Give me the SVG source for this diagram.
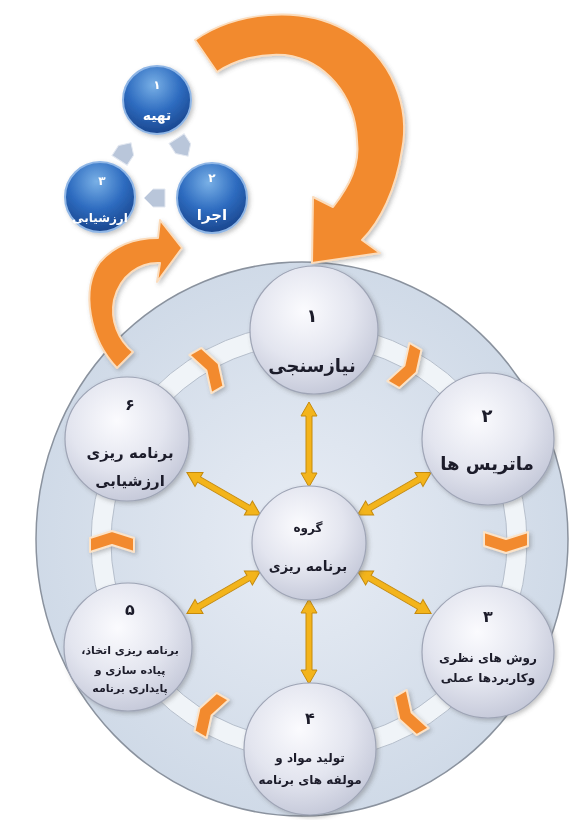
<svg xmlns="http://www.w3.org/2000/svg" xmlns:xlink="http://www.w3.org/1999/xlink" width="586" height="820" viewBox="0 0 586 820">
<style>
.t{font-family:"DejaVu Sans","Noto Sans",sans-serif;font-weight:bold;text-anchor:middle;fill:#1c1c2a}
.w{font-family:"DejaVu Sans","Noto Sans",sans-serif;font-weight:bold;text-anchor:middle;fill:#ffffff}
.node{fill:url(#ng);stroke:#9ea4b5;stroke-width:1.2}
.blue{fill:url(#bg);stroke:#8fb6e6;stroke-width:2}
.chev{fill:#f28a2e;stroke:#fbe3c8;stroke-width:2;stroke-linejoin:round}
.gold{fill:#f3b41b;stroke:#c58a0c;stroke-width:1}
.gray{fill:#b9c6da;stroke:#e3e8f1;stroke-width:1}
.orange{fill:#f28a2e;stroke:#fbdcbc;stroke-width:2;stroke-linejoin:round}
</style>
<defs>
<radialGradient id="big" cx="50%" cy="50%" r="55%">
<stop offset="0" stop-color="#e8edf5"/>
<stop offset="1" stop-color="#cdd8e6"/>
</radialGradient>
<radialGradient id="ng" cx="42%" cy="35%" r="70%">
<stop offset="0" stop-color="#fbfbfe"/>
<stop offset="0.55" stop-color="#e3e5ef"/>
<stop offset="1" stop-color="#c2c6d7"/>
</radialGradient>
<radialGradient id="bg" cx="45%" cy="28%" r="72%">
<stop offset="0" stop-color="#79b0e6"/>
<stop offset="0.55" stop-color="#2e6cc0"/>
<stop offset="1" stop-color="#1a468e"/>
</radialGradient>
<filter id="sh" x="-30%" y="-30%" width="160%" height="160%">
<feDropShadow dx="2" dy="2" stdDeviation="2" flood-color="#555" flood-opacity="0.35"/>
</filter>
<polygon id="chev" points="-22,-4 0,-11 22,-4 22,10 0,3 -22,10"/>
<polygon id="garrow" points="0,-141 8,-127 3,-127 3,-70 8,-70 0,-56 -8,-70 -3,-70 -3,-127 -8,-127"/>
<polygon id="sarrow" points="-10,-9 2,-9 11,0 2,9 -10,9"/>
</defs>
<rect width="586" height="820" fill="#ffffff"/>
<g id="main-circle">
<ellipse cx="302" cy="539" rx="266" ry="277" fill="url(#big)" stroke="#8a929e" stroke-width="1.5"/>
<circle cx="309" cy="542" r="208" fill="none" stroke="#f3f6fa" stroke-width="20" opacity="0.9"/>
<circle cx="309" cy="542" r="198" fill="none" stroke="#b6bfcc" stroke-width="1"/>
<circle cx="309" cy="542" r="218" fill="none" stroke="#b6bfcc" stroke-width="1"/>
</g>
<g id="connectors">
<g filter="url(#sh)">
<use href="#chev" class="chev" transform="translate(407,367) rotate(120)"/>
<use href="#chev" class="chev" transform="translate(506,542) rotate(180)"/>
<use href="#chev" class="chev" transform="translate(409,714) rotate(240)"/>
<use href="#chev" class="chev" transform="translate(209,714) rotate(300)"/>
<use href="#chev" class="chev" transform="translate(112,542) rotate(0)"/>
<use href="#chev" class="chev" transform="translate(209,369) rotate(60)"/>
</g>
<g>
<use href="#garrow" class="gold" transform="translate(309,543) rotate(0)"/>
<use href="#garrow" class="gold" transform="translate(309,543) rotate(60)"/>
<use href="#garrow" class="gold" transform="translate(309,543) rotate(120)"/>
<use href="#garrow" class="gold" transform="translate(309,543) rotate(180)"/>
<use href="#garrow" class="gold" transform="translate(309,543) rotate(240)"/>
<use href="#garrow" class="gold" transform="translate(309,543) rotate(300)"/>
</g>
<g>
<use href="#sarrow" class="gray" transform="translate(182,147) rotate(57)"/>
<use href="#sarrow" class="gray" transform="translate(155,198) rotate(180)"/>
<use href="#sarrow" class="gray" transform="translate(125,152) rotate(-57)"/>
</g>
<g filter="url(#sh)">
<path class="orange" d="M195,40 C235,12 300,5 345,30 C395,58 410,110 402,150 C396,190 380,222 362,240 L380,253 L312,263 L313,197 L333,207 C350,185 360,165 357,140 C355,95 325,60 285,55 C260,53 235,60 217,72 Z"/>
<path class="orange" d="M117,368 C90,340 80,290 100,262 C115,245 135,238 158,238 L160,220 L182,248 L157,282 L160,263 C140,262 120,275 114,300 C110,320 118,340 133,352 Z"/>
</g>
</g>
<g id="node-1" filter="url(#sh)">
<circle class="node" cx="314" cy="330" r="64"/>
<text class="t" x="312" y="322" font-size="18">۱</text>
<text class="t" x="312" y="372" font-size="18" direction="rtl">نیازسنجی</text>
</g>
<g id="node-2" filter="url(#sh)">
<circle class="node" cx="488" cy="439" r="66"/>
<text class="t" x="487" y="422" font-size="18">۲</text>
<text class="t" x="487" y="470" font-size="18" direction="rtl">ماتریس ها</text>
</g>
<g id="node-3" filter="url(#sh)">
<circle class="node" cx="488" cy="652" r="66"/>
<text class="t" x="488" y="622" font-size="16">۳</text>
<text class="t" x="488" y="662" font-size="12" direction="rtl">روش های نظری</text>
<text class="t" x="488" y="682" font-size="12" direction="rtl">وکاربردها عملی</text>
</g>
<g id="node-4" filter="url(#sh)">
<circle class="node" cx="310" cy="749" r="66"/>
<text class="t" x="310" y="724" font-size="16">۴</text>
<text class="t" x="310" y="762" font-size="12" direction="rtl">تولید مواد و</text>
<text class="t" x="310" y="784" font-size="12" direction="rtl">مولفه های برنامه</text>
</g>
<g id="node-5" filter="url(#sh)">
<circle class="node" cx="128" cy="647" r="64"/>
<text class="t" x="130" y="615" font-size="16">۵</text>
<text class="t" x="130" y="654" font-size="11" direction="rtl">برنامه ریزی اتخاذ،</text>
<text class="t" x="130" y="674" font-size="11" direction="rtl">پیاده سازی و</text>
<text class="t" x="130" y="692" font-size="11" direction="rtl">پایداری برنامه</text>
</g>
<g id="node-6" filter="url(#sh)">
<circle class="node" cx="127" cy="439" r="62"/>
<text class="t" x="130" y="410" font-size="16">۶</text>
<text class="t" x="130" y="458" font-size="15" direction="rtl">برنامه ریزی</text>
<text class="t" x="130" y="486" font-size="15" direction="rtl">ارزشیابی</text>
</g>
<g id="node-center" filter="url(#sh)">
<circle class="node" cx="309" cy="543" r="57"/>
<text class="t" x="308" y="532" font-size="12" direction="rtl">گروه</text>
<text class="t" x="308" y="571" font-size="13" direction="rtl"><tspan font-size="14">برنامه</tspan> ریزی</text>
</g>
<g id="cycle-1" filter="url(#sh)">
<circle class="blue" cx="157" cy="100" r="34"/>
<text class="w" x="157" y="89" font-size="12">۱</text>
<text class="w" x="157" y="120" font-size="14" direction="rtl">تهیه</text>
</g>
<g id="cycle-2" filter="url(#sh)">
<circle class="blue" cx="212" cy="198" r="35"/>
<text class="w" x="212" y="182" font-size="12">۲</text>
<text class="w" x="212" y="220" font-size="15" direction="rtl">اجرا</text>
</g>
<g id="cycle-3" filter="url(#sh)">
<circle class="blue" cx="100" cy="197" r="35"/>
<text class="w" x="102" y="185" font-size="12">۳</text>
<text class="w" x="100" y="222" font-size="12" direction="rtl">ارزشیابی</text>
</g>
</svg>
